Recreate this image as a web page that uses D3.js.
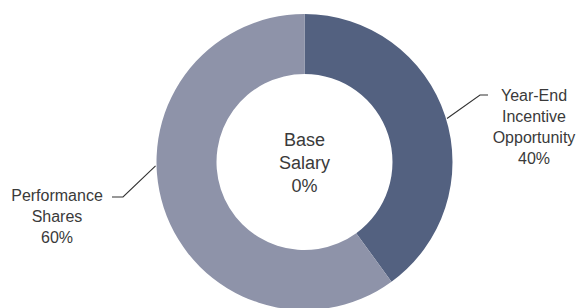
<!DOCTYPE html>
<html>
<head>
<meta charset="utf-8">
<script src="https://cdn.jsdelivr.net/npm/d3@7"></script>
<style>
  html, body { margin: 0; padding: 0; background: #fff; }
  svg { display: block; }
</style>
</head>
<body>
<svg id="chart" width="578" height="308"></svg>
<script>
const categories = ["Base Salary", "Year-End Incentive Opportunity", "Performance Shares"];
const values = [0, 40, 60];
const labelLines = [["Base", "Salary"], ["Year-End", "Incentive", "Opportunity"], ["Performance", "Shares"]];
const colors = ["#ffffff", "#536180", "#8e93a9"];

const svg = d3.select("#chart");
const cx = 304.5, cy = 162, rOuter = 148, rInner = 88;
const g = svg.append("g").attr("transform", `translate(${cx},${cy})`);

const pie = d3.pie().sort(null).value(d => d);
const arcs = pie(values);
const arc = d3.arc().innerRadius(rInner).outerRadius(rOuter);

g.selectAll("path.slice")
  .data(arcs.filter(a => a.data > 0))
  .join("path")
  .attr("class", "slice")
  .attr("d", arc)
  .attr("fill", d => colors[d.index]);

const fmt = d => d3.format(".0%")(d / 100);
const textColor = "#3a3a3a";
const font = "'Liberation Sans', Arial, sans-serif";

// Center label (zero slice)
const center = g.append("text")
  .attr("text-anchor", "middle")
  .attr("font-family", font)
  .attr("font-size", 18)
  .attr("fill", textColor);
[...labelLines[0], fmt(values[0])].forEach((t, i) => {
  center.append("tspan").attr("x", 0).attr("y", -22 + i * 23 + 6).text(t);
});

// Outer labels with leader lines
const outer = [
  { idx: 1, angle: 73 * Math.PI / 180, elbow: [480, 95], end: [488, 95], tx: 534, ty: 101 },
  { idx: 2, angle: 268.5 * Math.PI / 180, elbow: [123, 197], end: [112, 197], tx: 57, ty: 201 }
];
const line = d3.line();
outer.forEach(o => {
  const r = rOuter + 1;
  const start = [cx + r * Math.sin(o.angle), cy - r * Math.cos(o.angle)];
  svg.append("path")
    .attr("d", line([start, o.elbow, o.end]))
    .attr("fill", "none")
    .attr("stroke", "#333")
    .attr("stroke-width", 1.1);
  const t = svg.append("text")
    .attr("text-anchor", "middle")
    .attr("font-family", font)
    .attr("font-size", 16)
    .attr("fill", textColor);
  [...labelLines[o.idx], fmt(values[o.idx])].forEach((s, i) => {
    t.append("tspan").attr("x", o.tx).attr("y", o.ty + i * 21).text(s);
  });
});
</script>
</body>
</html>
